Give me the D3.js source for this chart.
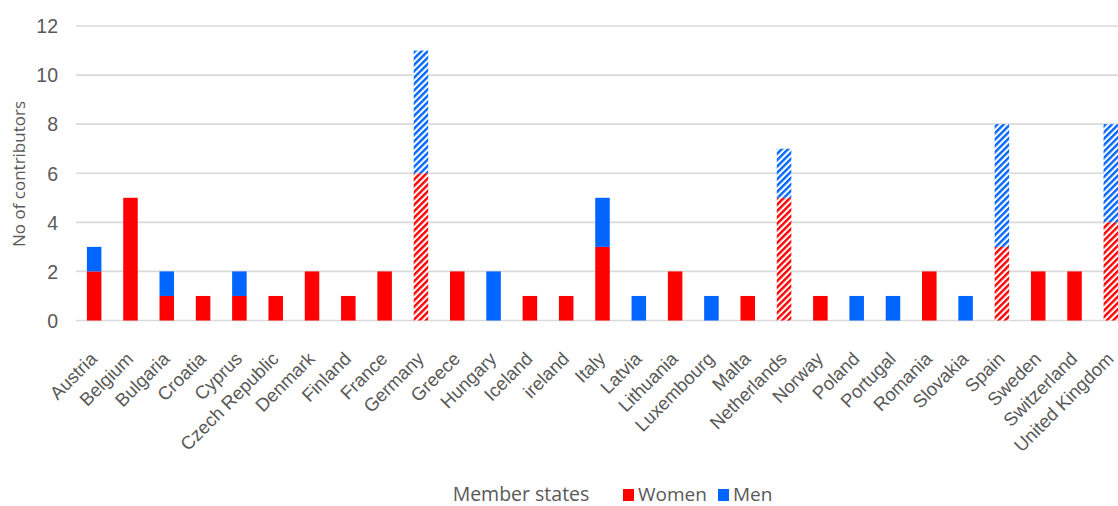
<!DOCTYPE html>
<html>
<head>
<meta charset="utf-8">
<script src="https://cdn.jsdelivr.net/npm/d3@7"></script>
<style>
  body { margin: 0; background: #fff; }
  svg { display: block; font-family: "Open Sans", "Noto Sans", sans-serif; }
</style>
</head>
<body>
<svg id="chart" width="1118" height="506"></svg>
<script>
// categories and values
var countries = ["Austria", "Belgium", "Bulgaria", "Croatia", "Cyprus", "Czech Republic", "Denmark", "Finland", "France", "Germany",
  "Greece", "Hungary", "Iceland", "ireland", "Italy", "Latvia", "Lithuania", "Luxembourg", "Malta", "Netherlands",
  "Norway", "Poland", "Portugal", "Romania", "Slovakia", "Spain", "Sweden", "Switzerland", "United Kingdom"];
var women = [2, 5, 1, 1, 1, 1, 2, 1, 2, 6, 2, 0, 1, 1, 3, 0, 2, 0, 1, 5, 1, 0, 0, 2, 0, 3, 2, 2, 4];
var men   = [1, 0, 1, 0, 1, 0, 0, 0, 0, 5, 0, 2, 0, 0, 2, 1, 0, 1, 0, 2, 0, 1, 1, 0, 1, 5, 0, 0, 4];
var hatched = ["Germany", "Netherlands", "Spain", "United Kingdom"];
var yTicks = [0, 2, 4, 6, 8, 10, 12];

var svg = d3.select("#chart");
var colWomen = "#ff0000", colMen = "#0066ff";

var x = d3.scaleBand().domain(countries).range([76, 1129]).paddingInner(0.6).paddingOuter(0.3);
var y = d3.scaleLinear().domain([0, 12]).range([320.5, 26]);

// hatch patterns
var defs = svg.append("defs");
[["hatchWomen", colWomen], ["hatchMen", colMen]].forEach(function(p) {
  var pat = defs.append("pattern").attr("id", p[0]).attr("patternUnits", "userSpaceOnUse")
    .attr("width", 4.5).attr("height", 4.5).attr("patternTransform", "rotate(45)");
  pat.append("rect").attr("width", 4.5).attr("height", 4.5).attr("fill", "#fff");
  pat.append("rect").attr("width", 2.4).attr("height", 4.5).attr("fill", p[1]);
});

// gridlines
svg.append("g").selectAll("line").data(yTicks).join("line")
  .attr("x1", 76).attr("x2", 1118)
  .attr("y1", function(d) { return y(d); }).attr("y2", function(d) { return y(d); })
  .attr("stroke", "#d9d9d9").attr("stroke-width", 1.6);

// y axis labels
svg.append("g").attr("transform", "translate(58,0)")
  .call(d3.axisLeft(y).tickValues(yTicks).tickSize(0).tickPadding(0))
  .call(function(g) { g.select(".domain").remove(); })
  .selectAll("text").style("font-size", "19.5px").style("fill", "#595959").attr("dy", "0.35em");

svg.append("text").attr("transform", "translate(25,174) rotate(-90)")
  .attr("text-anchor", "middle").style("font-size", "17px").style("fill", "#595959")
  .text("No of contributors");

// bars
var bars = svg.append("g");
countries.forEach(function(c, i) {
  var h = hatched.indexOf(c) >= 0;
  if (women[i] > 0) {
    bars.append("rect").attr("x", x(c)).attr("width", x.bandwidth())
      .attr("y", y(women[i])).attr("height", y(0) - y(women[i]))
      .attr("fill", h ? "url(#hatchWomen)" : colWomen);
  }
  if (men[i] > 0) {
    bars.append("rect").attr("x", x(c)).attr("width", x.bandwidth())
      .attr("y", y(women[i] + men[i])).attr("height", y(women[i]) - y(women[i] + men[i]))
      .attr("fill", h ? "url(#hatchMen)" : colMen);
  }
});

// x axis labels
svg.append("g").attr("transform", "translate(0,340)")
  .call(d3.axisBottom(x).tickSize(0).tickPadding(0))
  .call(function(g) { g.select(".domain").remove(); })
  .selectAll("text")
  .attr("text-anchor", "end").attr("dy", "0")
  .attr("transform", function() { return "translate(4,20) rotate(-45)"; })
  .style("font-size", "18.5px").style("fill", "#595959");

// axis title + legend
svg.append("text").attr("x", 521).attr("y", 501).attr("text-anchor", "middle")
  .style("font-size", "19.5px").style("fill", "#595959").text("Member states");

var legend = [["Women", colWomen, 623], ["Men", colMen, 718]];
legend.forEach(function(l) {
  svg.append("rect").attr("x", l[2]).attr("y", 489).attr("width", 11).attr("height", 12).attr("fill", l[1]);
  svg.append("text").attr("x", l[2] + 15).attr("y", 501).style("font-size", "19px").style("fill", "#595959").text(l[0]);
});
</script>
</body>
</html>
